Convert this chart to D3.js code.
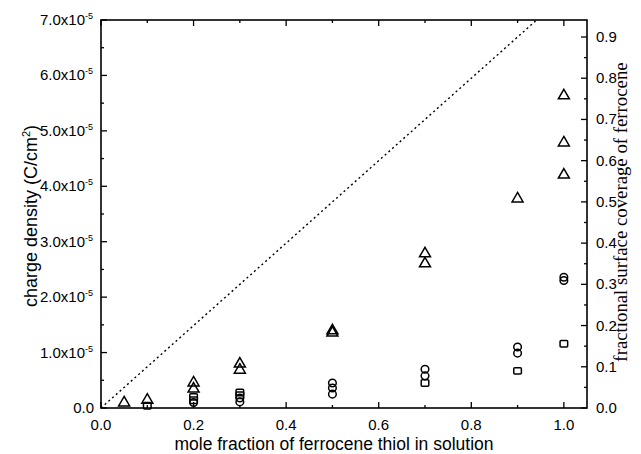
<!DOCTYPE html>
<html>
<head>
<meta charset="utf-8">
<script src="https://cdn.jsdelivr.net/npm/d3@7"></script>
<style>
  html, body { margin: 0; padding: 0; background: #fff; }
  svg { display: block; }
</style>
</head>
<body>
<svg id="chart" width="641" height="454"></svg>
<script>
// charge density values are in units of 1e-5 C/cm^2
const triangleX = [0.05, 0.1, 0.2, 0.2, 0.3, 0.3, 0.5, 0.5, 0.7, 0.7, 0.9, 1.0, 1.0, 1.0];
const triangleQ = [0.11, 0.16, 0.47, 0.36, 0.81, 0.70, 1.41, 1.37, 2.80, 2.62, 3.79, 5.65, 4.80, 4.22];

const circleX = [0.2, 0.3, 0.3, 0.5, 0.5, 0.5, 0.7, 0.7, 0.9, 0.9, 1.0, 1.0];
const circleQ = [0.10, 0.18, 0.11, 0.45, 0.36, 0.25, 0.70, 0.58, 1.10, 0.99, 2.36, 2.30];

const squareX = [0.1, 0.2, 0.2, 0.3, 0.3, 0.7, 0.9, 1.0];
const squareQ = [0.04, 0.20, 0.14, 0.28, 0.23, 0.45, 0.67, 1.16];

const xTicks = [0.0, 0.2, 0.4, 0.6, 0.8, 1.0];
const leftTicks = [0, 1, 2, 3, 4, 5, 6, 7];
const rightTicks = [0.0, 0.1, 0.2, 0.3, 0.4, 0.5, 0.6, 0.7, 0.8, 0.9];

// ─── Layout ──────────────────────────────────────────────────────────────────
const L = 101, R = 587, T = 20, B = 408;
const svg = d3.select('#chart');

const x  = d3.scaleLinear().domain([0, 1.05]).range([L, R]);
const yQ = d3.scaleLinear().domain([0, 7]).range([B, T]);
const yC = d3.scaleLinear().domain([0, 0.9]).range([B, 37]);

const sans = 'Liberation Sans, Arial, sans-serif';
const serif = 'Liberation Serif, Times New Roman, serif';
const tickFont = 15;

svg.append('defs').append('clipPath').attr('id', 'plot-clip')
  .append('rect').attr('x', L).attr('y', T).attr('width', R - L).attr('height', B - T);

// ─── Ticks (all inward) ──────────────────────────────────────────────────────
const ticks = svg.append('g').attr('stroke', '#000').attr('stroke-width', 1.3);

d3.range(0, 1.01, 0.1).forEach((v, i) => {
  const len = i % 2 === 0 ? 6 : 3;
  ticks.append('line').attr('x1', x(v)).attr('x2', x(v)).attr('y1', B).attr('y2', B - len);
  ticks.append('line').attr('x1', x(v)).attr('x2', x(v)).attr('y1', T).attr('y2', T + len);
});
d3.range(0, 7.01, 0.5).forEach((v, i) => {
  const len = i % 2 === 0 ? 6 : 3;
  ticks.append('line').attr('x1', L).attr('x2', L + len).attr('y1', yQ(v)).attr('y2', yQ(v));
});
d3.range(0, 0.901, 0.05).forEach((v, i) => {
  const len = i % 2 === 0 ? 6 : 3;
  ticks.append('line').attr('x1', R).attr('x2', R - len).attr('y1', yC(v)).attr('y2', yC(v));
});

// frame
svg.append('rect')
  .attr('x', L).attr('y', T).attr('width', R - L).attr('height', B - T)
  .attr('fill', 'none').attr('stroke', '#000').attr('stroke-width', 1.6);

// ─── Tick labels ─────────────────────────────────────────────────────────────
svg.append('g').selectAll('text').data(xTicks).join('text')
  .attr('x', d => x(d)).attr('y', 430)
  .attr('text-anchor', 'middle')
  .attr('font-family', sans).attr('font-size', tickFont)
  .text(d => d.toFixed(1));

const leftLab = svg.append('g').selectAll('text').data(leftTicks).join('text')
  .attr('x', d => d === 0 ? 94 : 93).attr('y', d => yQ(d) + 5)
  .attr('text-anchor', 'end')
  .attr('font-family', sans).attr('font-size', tickFont);
leftLab.each(function (d) {
  const t = d3.select(this);
  if (d === 0) { t.text('0.0'); return; }
  t.append('tspan').text(d.toFixed(1) + 'x10');
  t.append('tspan').attr('dy', -6).attr('font-size', 9).text('-5');
});

svg.append('g').selectAll('text').data(rightTicks).join('text')
  .attr('x', 596).attr('y', d => yC(d) + 5)
  .attr('font-family', sans).attr('font-size', tickFont)
  .text(d => d.toFixed(1));

// ─── Axis titles ─────────────────────────────────────────────────────────────
svg.append('text')
  .attr('x', 334).attr('y', 450)
  .attr('text-anchor', 'middle')
  .attr('font-family', sans).attr('font-size', 17.5)
  .text('mole fraction of ferrocene thiol in solution');

const yt = svg.append('text')
  .attr('transform', 'translate(37,216) rotate(-90)')
  .attr('text-anchor', 'middle')
  .attr('font-family', sans).attr('font-size', 18);
yt.append('tspan').text('charge density (C/cm');
yt.append('tspan').attr('dy', -7).attr('font-size', 11).text('2');
yt.append('tspan').attr('dy', 7).text(')');

svg.append('text')
  .attr('transform', 'translate(627,212) rotate(-90)')
  .attr('text-anchor', 'middle')
  .attr('font-family', serif).attr('font-size', 18.8)
  .text('fractional surface coverage of ferrocene');

// ─── Ideal line: coverage = mole fraction ────────────────────────────────────
svg.append('line')
  .attr('clip-path', 'url(#plot-clip)')
  .attr('x1', x(0)).attr('y1', yC(0))
  .attr('x2', x(1.05)).attr('y2', yC(1.05))
  .attr('stroke', '#000').attr('stroke-width', 1.4)
  .attr('stroke-dasharray', '2,3');

// ─── Markers ─────────────────────────────────────────────────────────────────
const marks = svg.append('g').attr('fill', 'none').attr('stroke', '#000').attr('stroke-width', 1.5);

marks.selectAll('path.tri').data(d3.zip(triangleX, triangleQ)).join('path')
  .attr('class', 'tri')
  .attr('d', d => {
    const cx = x(d[0]), cy = yQ(d[1]);
    return `M${cx},${cy - 5.5}L${cx + 5.5},${cy + 4}L${cx - 5.5},${cy + 4}Z`;
  });

marks.selectAll('circle').data(d3.zip(circleX, circleQ)).join('circle')
  .attr('cx', d => x(d[0])).attr('cy', d => yQ(d[1])).attr('r', 3.8);

marks.selectAll('rect').data(d3.zip(squareX, squareQ)).join('rect')
  .attr('x', d => x(d[0]) - 3.8).attr('y', d => yQ(d[1]) - 3.2)
  .attr('width', 7.6).attr('height', 6.4).attr('rx', 1);
</script>
</body>
</html>
